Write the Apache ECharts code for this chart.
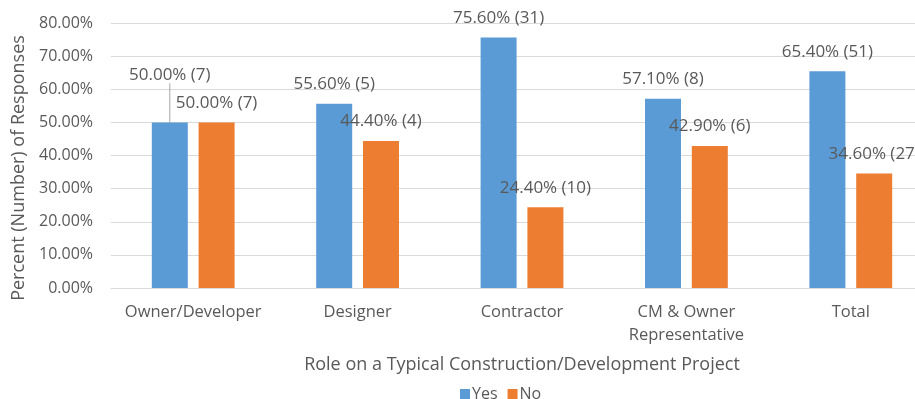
<!DOCTYPE html>
<html>
<head>
<meta charset="utf-8">
<script src="https://cdn.jsdelivr.net/npm/echarts@6/dist/echarts.min.js"></script>
<style>
  html, body { margin: 0; padding: 0; background: #fff; overflow: hidden; }
  #chart { width: 933px; height: 399px; }
</style>
</head>
<body>
<div id="chart"></div>
<script>
// Survey responses by project role
const roles = ['Owner/Developer', 'Designer', 'Contractor', 'CM & Owner\nRepresentative', 'Total'];
const yesPercent = [50.0, 55.6, 75.6, 57.1, 65.4];
const yesCounts = [7, 5, 31, 8, 51];
const noPercent = [50.0, 44.4, 24.4, 42.9, 34.6];
const noCounts = [7, 4, 10, 6, 27];
const yTicks = [0, 10, 20, 30, 40, 50, 60, 70, 80];

const TEXT = '#595959';
const FONT = 'Open Sans';

function barLabel(counts) {
  return {
    show: true,
    position: 'top',
    distance: 11,
    color: TEXT,
    fontFamily: FONT,
    fontSize: 17,
    formatter: p => p.value.toFixed(2) + '% (' + counts[p.dataIndex] + ')'
  };
}

// The first "Yes" label is lifted above its bar and tied back with a guide line
const yesData = yesPercent.map((v, i) => i === 0
  ? { value: v, labelLine: { show: true, lineStyle: { color: '#a6a6a6', width: 1 } } }
  : { value: v });

const chart = echarts.init(document.getElementById('chart'), null, { renderer: 'canvas' });
chart.setOption({
  backgroundColor: '#ffffff',
  animation: false,
  textStyle: { fontFamily: FONT },
  grid: { left: 111, right: 0, top: 23, bottom: 111, containLabel: false },
  legend: {
    data: ['Yes', 'No'],
    top: 381,
    left: 455,
    itemWidth: 10,
    itemHeight: 10,
    itemGap: 10,
    icon: 'rect',
    textStyle: { color: TEXT, fontSize: 16, fontFamily: FONT, padding: [0, 0, 0, -3] }
  },
  xAxis: {
    type: 'category',
    data: roles,
    name: 'Role on a Typical Construction/Development Project',
    nameLocation: 'middle',
    nameGap: 68,
    nameTextStyle: { color: TEXT, fontSize: 18, fontFamily: FONT },
    axisLine: { show: true, lineStyle: { color: '#d9d9d9', width: 1 } },
    axisTick: { show: false },
    axisLabel: { color: TEXT, fontSize: 16.5, fontFamily: FONT, margin: 13, lineHeight: 23, interval: 0 }
  },
  yAxis: {
    type: 'value',
    min: yTicks[0],
    max: yTicks[yTicks.length - 1],
    interval: 10,
    name: 'Percent (Number) of Responses',
    nameLocation: 'middle',
    nameGap: 78,
    nameTextStyle: { color: TEXT, fontSize: 18, fontFamily: FONT, padding: [0, 25, 0, 0] },
    axisLine: { show: false },
    axisTick: { show: false },
    axisLabel: {
      color: TEXT, fontSize: 16, fontFamily: FONT, margin: 18,
      formatter: v => v.toFixed(2) + '%'
    },
    splitLine: { lineStyle: { color: '#d9d9d9', width: 1 } }
  },
  series: [
    {
      name: 'Yes',
      type: 'bar',
      data: yesData,
      barWidth: 36,
      barGap: '30%',
      itemStyle: { color: '#5B9BD5' },
      label: barLabel(yesCounts),
      labelLayout: p => (p.dataIndex === 0 ? { dy: -28 } : {})
    },
    {
      name: 'No',
      type: 'bar',
      data: noPercent,
      barWidth: 36,
      itemStyle: { color: '#ED7D31' },
      label: barLabel(noCounts)
    }
  ]
});
</script>
</body>
</html>
